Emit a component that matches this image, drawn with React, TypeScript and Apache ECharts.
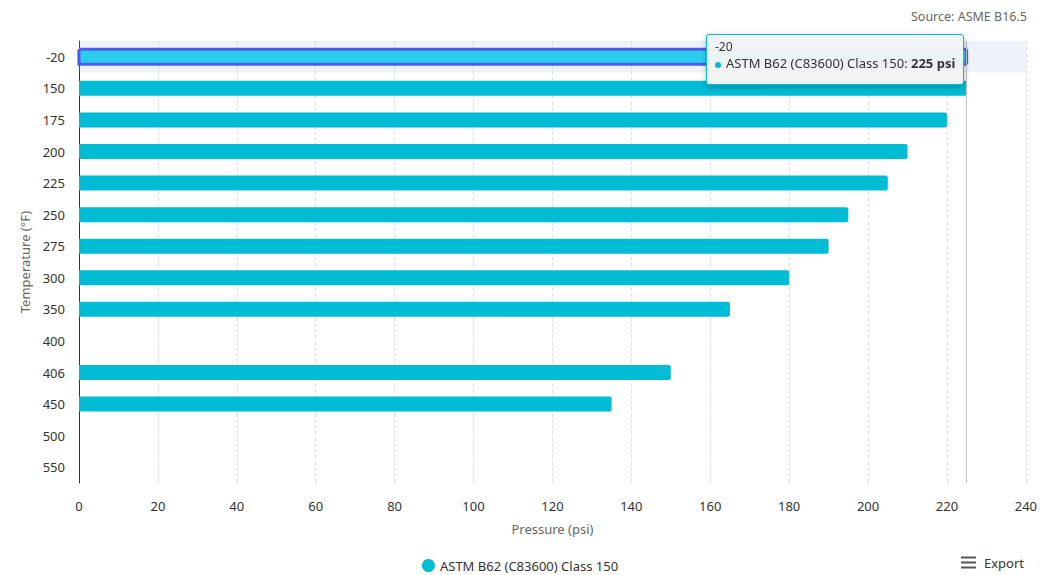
import React, { useEffect, useRef } from "react";
import * as echarts from "echarts";

const categories = ["-20", "150", "175", "200", "225", "250", "275", "300", "350", "400", "406", "450", "500", "550"];
const pressures: (number | null)[] = [225, 225, 220, 210, 205, 195, 190, 180, 165, null, 150, 135, null, null];
const seriesName = "ASTM B62 (C83600) Class 150";
const xTicks = { min: 0, max: 240, interval: 20 };
const refValue = 225;

const FONT = "'Noto Sans', 'Open Sans', sans-serif";

export default function App() {
  const ref = useRef<HTMLDivElement>(null);
  useEffect(() => {
    document.body.style.margin = "0";
    if (!ref.current) return;
    const chart = echarts.init(ref.current, undefined, { renderer: "svg" });
    chart.setOption({
      animation: false,
      textStyle: { fontFamily: FONT },
      grid: { left: 79, right: 12, top: 41, bottom: 92, containLabel: false },
      title: {
        text: "Source: ASME B16.5",
        right: 8,
        top: 5,
        textStyle: { fontSize: 12.5, fontWeight: "normal", color: "#666", fontFamily: FONT },
      },
      tooltip: {
        trigger: "axis",
        axisPointer: { type: "shadow", shadowStyle: { color: "rgba(150,160,230,0.15)" } },
        backgroundColor: "rgba(242,244,244,0.97)",
        borderColor: "#00bcd4",
        borderWidth: 1,
        padding: [5, 8, 12, 8],
        extraCssText: "box-shadow: 0 2px 6px rgba(0,0,0,0.25); border-radius: 3px;",
        position: () => [706, 34],
        formatter: (params: any) => {
          const p = Array.isArray(params) ? params[0] : params;
          return (
            `<div style="font-family:${FONT};font-size:12px;color:#333;line-height:14px">${p.name}</div>` +
            `<div style="font-family:${FONT};font-size:13px;color:#333;line-height:18px">` +
            `<span style="display:inline-block;width:6px;height:6px;border-radius:3px;background:#00bcd4;margin-right:5px;vertical-align:middle"></span>` +
            `${p.seriesName}: <b>${p.value} psi</b></div>`
          );
        },
      },
      legend: {
        bottom: 3,
        padding: 0,
        left: "center",
        icon: "circle",
        itemWidth: 13,
        itemHeight: 13,
        textStyle: { fontSize: 13, color: "#333", fontFamily: FONT },
        data: [seriesName],
      },
      xAxis: {
        type: "value",
        min: xTicks.min,
        max: xTicks.max,
        interval: xTicks.interval,
        name: "Pressure (psi)",
        nameLocation: "middle",
        nameGap: 39,
        nameTextStyle: { fontSize: 13, color: "#666" },
        axisLine: { show: false },
        axisTick: { show: false },
        axisLabel: { fontSize: 13, color: "#333", margin: 16 },
        splitLine: { show: true, lineStyle: { type: "dashed", color: "#e2e2e2" } },
      },
      yAxis: {
        type: "category",
        inverse: true,
        data: categories,
        name: "Temperature (°F)",
        nameLocation: "middle",
        nameGap: 45,
        nameRotate: 90,
        nameTextStyle: { fontSize: 13, color: "#666" },
        axisLine: { show: true, lineStyle: { color: "#333" } },
        axisTick: { show: false },
        axisLabel: { fontSize: 13, color: "#333", margin: 14 },
      },
      series: [
        {
          name: seriesName,
          type: "bar",
          data: pressures,
          barWidth: 15,
          itemStyle: { color: "#00bcd4", borderRadius: [0, 2, 2, 0] },
          emphasis: {
            itemStyle: { color: "#1bd5ee", borderColor: "#4053ef", borderWidth: 3 },
          },
          markLine: {
            silent: true,
            symbol: "none",
            label: { show: false },
            lineStyle: { color: "#c4c4c4", type: "solid", width: 1 },
            data: [{ xAxis: refValue }],
          },
        },
      ],
      graphic: [
        {
          type: "group",
          right: 16,
          bottom: 6,
          children: [
            { type: "rect", shape: { x: 0, y: 0, width: 15, height: 2 }, style: { fill: "#555" } },
            { type: "rect", shape: { x: 0, y: 5, width: 15, height: 2 }, style: { fill: "#555" } },
            { type: "rect", shape: { x: 0, y: 10, width: 15, height: 2 }, style: { fill: "#555" } },
            {
              type: "text",
              x: 23,
              y: 6,
              style: { text: "Export", fontSize: 13, fill: "#333", fontFamily: FONT, verticalAlign: "middle" },
            },
          ],
        },
      ],
    });
    chart.dispatchAction({ type: "highlight", seriesIndex: 0, dataIndex: 0 });
    chart.dispatchAction({ type: "showTip", seriesIndex: 0, dataIndex: 0 });
    return () => chart.dispose();
  }, []);
  return <div ref={ref} style={{ width: 1040, height: 575 }} />;
}
